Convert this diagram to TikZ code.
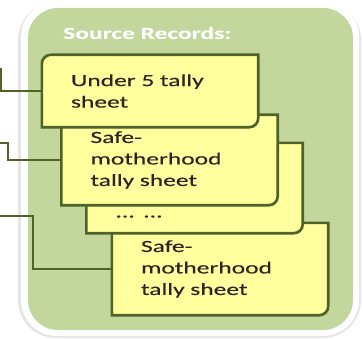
\documentclass[tikz,border=0pt]{standalone}
\usepackage{fontspec}
\usepackage{xcolor}
\usepackage{tikz}
\usetikzlibrary{positioning,calc,backgrounds,shadows}

\newfontfamily\cardfont[FakeStretch=1.5, FakeBold=0.25]{Carlito}

\definecolor{panelgreen}{HTML}{C3D69B}
\definecolor{cardyellow}{HTML}{FFFF9E}
\definecolor{edgeolive}{HTML}{4F6228}
\definecolor{cardtext}{HTML}{2E2222}

% outline of a sheet: rounded top-left and bottom-right corners
\newcommand{\cardshape}[1]{%
	\filldraw[card_edge] ([xshift=9pt]#1.north west) -- (#1.north east)
	-- ([yshift=9pt]#1.south east) arc[start angle=0, end angle=-90, radius=9pt]
	-- (#1.south west) -- ([yshift=-9pt]#1.north west)
	arc[start angle=180, end angle=90, radius=9pt] -- cycle;}

\begin{document}
\begin{tikzpicture}[
	x=1pt, y=1pt,
	card/.style={
		rectangle, minimum width=216pt, text width=158pt,
		inner xsep=29pt, inner ysep=0pt, align=left,
		font=\cardfont\fontsize{17}{21.5}\selectfont, text=cardtext
	},
	card_edge/.style={
		fill=cardyellow, draw=edgeolive, line width=2.6pt,
		drop shadow={shadow xshift=1.2pt, shadow yshift=-1.2pt, opacity=0.3}
	},
	link/.style={
		draw=edgeolive, line width=2.2pt
	}
	]
	\useasboundingbox (0,0) rectangle (364,338);
	
	% --- 1. CARDS (top to bottom of the pile) ---
	\node[card, minimum height=92pt] (sm_last) at (220,69) {Safe-\\motherhood\\tally sheet};
	\node[card, minimum height=90pt] (dots) at (194.5,150) {\mbox{}\\\mbox{}\\[16pt]... ...};
	\node[card, minimum height=90pt] (sm_first) at (169.5,178) {Safe-\\motherhood\\tally sheet};
	\node[card, minimum height=72pt] (under5) at (150,247) {Under 5 tally\\sheet};
	
	% --- 2. PANEL AND SHEETS BEHIND THE TEXT ---
	\begin{scope}[on background layer]
		\fill[black!10, rounded corners=38pt] (18,0) rectangle (361,336);
		\fill[white, rounded corners=36pt] (21,2) rectangle (359,337);
		\fill[panelgreen, rounded corners=30pt] (28,8) rectangle (353,330);
		\cardshape{sm_last}
		\cardshape{dots}
		\cardshape{sm_first}
		\cardshape{under5}
	\end{scope}
	
	\node[anchor=west, inner sep=0pt, text=white,
	font=\cardfont\bfseries\fontsize{17}{20}\selectfont] (title) at (63,305) {Source Records:};
	
	% --- 3. LINES COMING IN FROM THE LEFT ---
	\coordinate (in_a) at (1,270);
	\coordinate (in_b) at (0,195);
	\coordinate (in_c) at (0,122);
	
	\draw[link] (in_a) |- (under5.west);
	\draw[link] (in_b) -- ++(8,0) |- (sm_first.west);
	\draw[link] (in_c) -- ++(33,0) |- (sm_last.west);
	
\end{tikzpicture}
\end{document}
